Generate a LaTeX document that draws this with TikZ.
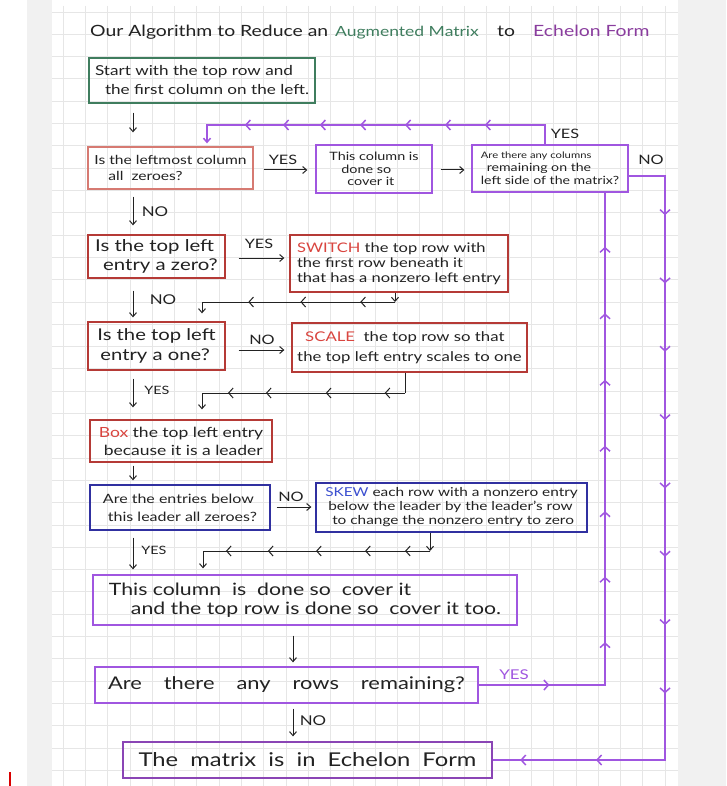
\documentclass[tikz,border=0pt]{standalone}
\usepackage{fontspec}
\setmainfont{Lato}[FakeStretch=1.25]
\usetikzlibrary{arrows.meta,decorations.markings,calc}
\definecolor{gridc}{HTML}{E6E6E6}
\definecolor{pagegray}{HTML}{F1F1F1}
\definecolor{grn}{HTML}{3F7D5E}
\definecolor{rd}{HTML}{B53A36}
\definecolor{rdl}{HTML}{D67A72}
\definecolor{rdw}{HTML}{D9453F}
\definecolor{pur}{HTML}{A056E0}
\definecolor{purd}{HTML}{8A45B5}
\definecolor{titlep}{HTML}{8A3D9E}
\definecolor{blu}{HTML}{3030A0}
\definecolor{bluw}{HTML}{3B4FD0}
\definecolor{ink}{HTML}{222222}
\newcommand{\fsz}[2]{\fontsize{#1}{#2}\selectfont}
\tikzset{
  chv/.tip={Straight Barb[length=4.5pt,width=10pt]},
  bx/.style={draw, line width=1.3pt, inner sep=1pt, text=ink, align=left},
  blk/.style={draw=ink, line width=1pt},
  pl/.style={draw=pur, line width=1.5pt},
  lab/.style={text=ink, inner sep=0pt, font=\fsz{13}{14}},
  chevat/.style={postaction={decorate,decoration={markings,mark=at position #1 with {\arrow{chv}}}}},
}
\begin{document}
\begin{tikzpicture}[x=1pt,y=-1pt,>={Straight Barb[length=4pt,width=7pt]}]
\useasboundingbox (0,0) rectangle (726,786);
% background page
\fill[white] (0,0) rectangle (726,786);
\fill[pagegray] (27,0) rectangle (52,786);
\fill[pagegray] (678,0) rectangle (726,786);
\foreach \i in {0,...,27} \draw[gridc, line width=0.8pt] ({63+22.3*\i},6) -- ({63+22.3*\i},786);
\foreach \j in {0,...,34} \draw[gridc, line width=0.8pt] (52,{12+22.3*\j}) -- (678,{12+22.3*\j});
\draw[red!85!black, line width=1.5pt] (10,772) -- (10,786);
\fill[red!80!black] (272,0) arc (180:360:7 and 4) -- cycle;

% title
\node[anchor=base west, inner sep=0, text=ink, font=\fsz{15.5}{18}] (t1) at (90,37) {Our Algorithm to Reduce an};
\node[anchor=base west, inner sep=0, text=grn, font=\fsz{14}{18}] (t2) at (335,37) {Augmented Matrix};
\node[anchor=base west, inner sep=0, text=ink, font=\fsz{15.5}{18}] (t3) at (497,37) {to};
\node[anchor=base west, inner sep=0, text=titlep, font=\fsz{15.5}{18}] (t4) at (533,37) {Echelon Form};

% boxes
\node[bx, draw=grn, line width=1.5pt, minimum width=226pt, minimum height=45pt, font=\fsz{13.7}{19}] (b0) at (202,80.5)
  {Start with the top row and\\\hspace*{10pt}the first column on the left.};
\node[bx, draw=rdl, minimum width=165pt, minimum height=42pt, font=\fsz{12.5}{16}] (b1) at (170.5,168)
  {Is the leftmost column\\\hspace*{14pt}all\ \ zeroes?};
\node[bx, draw=pur, minimum width=116pt, minimum height=48pt, font=\fsz{11.5}{12.5}] (b2) at (374,169)
  {This column is\\\hspace*{12pt}done so\\\hspace*{18pt}cover it};
\node[bx, draw=pur, minimum width=156pt, minimum height=47pt, font=\fsz{11.3}{13}] (b3) at (550,168.5)
  {{\fsz{9}{9}Are there any columns}\\\hspace*{6pt}remaining on the\\left side of the matrix?};
\node[bx, draw=rd, minimum width=137pt, minimum height=43pt, font=\fsz{16.3}{19}] (b4) at (156.5,256.5)
  {Is the top left\\\hspace*{8pt}entry a zero?};
\node[bx, draw=rd, minimum width=218pt, minimum height=57pt, font=\fsz{13.2}{15}] (b5) at (399,263.5)
  {{\color{rdw}SWITCH} the top row with\\the first row beneath it\\that has a nonzero left entry};
\node[bx, draw=rd, minimum width=137pt, minimum height=48pt, font=\fsz{16.2}{20}] (b6) at (156.5,346)
  {Is the top left\\\hspace*{3pt}entry a one?};
\node[bx, draw=rd, minimum width=235pt, minimum height=49pt, font=\fsz{13.4}{20}] (b7) at (409.5,347.5)
  {\hspace*{8pt}{\color{rdw}SCALE}\ \ the top row so that\\the top left entry scales to one};
\node[bx, draw=rd, minimum width=182pt, minimum height=42pt, font=\fsz{14}{18}] (b8) at (181,441)
  {{\color{rdw}Box} the top left entry\\\hspace*{5pt}because it is a leader};
\node[bx, draw=blu, minimum width=180pt, minimum height=45pt, font=\fsz{12.8}{18}] (b9) at (180,507.5)
  {Are the entries below\\\hspace*{5pt}this leader all zeroes?};
\node[bx, draw=blu, minimum width=271pt, minimum height=49pt, font=\fsz{12.3}{14}] (b10) at (451.5,507.5)
  {{\color{bluw}SKEW} each row with a nonzero entry\\\hspace*{3pt}below the leader by the leader's row\\\hspace*{7pt}to change the nonzero entry to zero};
\node[bx, draw=pur, minimum width=424pt, minimum height=50pt, font=\fsz{17}{19}] (b11) at (305,600)
  {This\ column\ \ is\ \ done\ so\ \ cover\ it\\\hspace*{22pt}and the top row is done so\ \ cover it too.};
\node[bx, draw=pur, minimum width=383pt, minimum height=36pt, font=\fsz{17.5}{18}] (b12) at (286.5,685)
  {Are\hspace{22pt}there\hspace{22pt}any\hspace{22pt}rows\hspace{22pt}remaining?};
\node[bx, draw=purd, minimum width=369pt, minimum height=36pt, font=\fsz{19}{20}] (b13) at (307.5,760)
  {The\ \ matrix\ \ is\ \ in\ \ Echelon\ \ Form};

% labels
\node[lab] (l1) at (283,160) {YES};
\node[lab] (l2) at (565,134) {YES};
\node[lab] (l3) at (651,160) {NO};
\node[lab, font=\fsz{13.5}{14}] (l4) at (155,212) {NO};
\node[lab] (l5) at (259,244) {YES};
\node[lab, font=\fsz{13.5}{14}] (l6) at (163,300) {NO};
\node[lab] (l7) at (262,340) {NO};
\node[lab, font=\fsz{11.5}{12}] (l8) at (157,390) {YES};
\node[lab] (l9) at (291,497) {NO};
\node[lab, font=\fsz{11.5}{12}] (l10) at (154,550) {YES};
\node[lab, text=pur, font=\fsz{13.5}{14}] (l11) at (514,675) {YES};
\node[lab, font=\fsz{13.5}{14}] (l12) at (313,721) {NO};

% main column arrows
\coordinate (cA) at (133,0);
\coordinate (cB) at (293,0);
\draw[blk,->,shorten <=9pt,shorten >=14pt] (b0.south -| cA) -- (b1.north -| cA);
\draw[blk,->,shorten <=7pt,shorten >=9pt] (b1.south -| cA) -- (b4.north -| cA);
\draw[blk,->,shorten <=12pt,shorten >=4pt] (b4.south -| cA) -- (b6.north -| cA);
\draw[blk,->,shorten <=8pt,shorten >=12pt] (b6.south -| cA) -- (b8.north -| cA);
\draw[blk,->,shorten <=3pt,shorten >=4pt] (b8.south -| cA) -- (b9.north -| cA);
\draw[blk,->,shorten <=7pt,shorten >=5pt] (b9.south -| cA) -- (b11.north -| cA);
\draw[blk,->,shorten <=10pt,shorten >=4pt] (b11.south -| cB) -- (b12.north -| cB);
\draw[blk,->,shorten <=5pt,shorten >=5pt] (b12.south -| cB) -- (b13.north -| cB);

% sideways arrows
\coordinate (yA) at (0,170);
\coordinate (yB) at (0,258);
\coordinate (yC) at (0,350);
\coordinate (yD) at (0,507);
\draw[blk,->,shorten <=10pt,shorten >=8pt] (b1.east |- yA) -- (b2.west |- yA);
\draw[blk,->,shorten <=8pt,shorten >=7pt] (b2.east |- yA) -- (b3.west |- yA);
\draw[blk,->,shorten <=13pt,shorten >=5pt] (b4.east |- yB) -- (b5.west |- yB);
\draw[blk,->,shorten <=13pt,shorten >=7pt] (b6.east |- yC) -- (b7.west |- yC);
\draw[blk,->,shorten <=6pt,shorten >=4pt] (b9.east |- yD) -- (b10.west |- yD);

% black return paths
\coordinate (r1) at (395,302); \coordinate (r1L) at (202,302);
\draw[blk,->] (b5.south -| r1) -- (r1);
\draw[blk,->,shorten >=8pt] (r1) -- (r1L) -- (b6.north -| r1L);
\draw[blk,chevat=0.18,chevat=0.49,chevat=0.76] (r1) -- (r1L);
\coordinate (r2) at (405,393); \coordinate (r2L) at (202,393);
\draw[blk] (b7.south -| r2) -- (r2);
\draw[blk,->,shorten >=10pt] (r2) -- (r2L) -- (b8.north -| r2L);
\draw[blk,chevat=0.1,chevat=0.39,chevat=0.685,chevat=0.872] (r2) -- (r2L);
\coordinate (r3) at (430,551); \coordinate (r3L) at (203,551);
\draw[blk,->] (b10.south -| r3) -- (r3);
\draw[blk,->,shorten >=6pt] (r3) -- (r3L) -- (b11.north -| r3L);
\draw[blk,chevat=0.11,chevat=0.286,chevat=0.502,chevat=0.714,chevat=0.899] (r3) -- (r3L);

% purple loop back to top
\coordinate (tR) at (545,125); \coordinate (tL) at (207,125);
\draw[pl,->,shorten >=3pt] (b3.north -| tR) -- (tR) -- (tL) -- (b1.north -| tL);
\draw[pl,chevat=0.178,chevat=0.296,chevat=0.414,chevat=0.547,chevat=0.666,chevat=0.775,chevat=0.888] (tR) -- (tL);

% NO path to the end
\coordinate (nR) at (665,176);
\draw[pl] (b3.east |- nR) -- (nR) -- (nR |- b13.east) -- (b13.east);
\draw[pl,chevat=0.067,chevat=0.184,chevat=0.301,chevat=0.418,chevat=0.535,chevat=0.652,chevat=0.769,chevat=0.886] (nR) -- (nR |- b13.east);
\draw[pl,chevat=0.4,chevat=0.84] (nR |- b13.east) -- (b13.east);

% YES path up
\coordinate (uX) at (605,0);
\draw[pl] (b12.east) -- (b12.east -| uX) -- (uX |- b3.south);
\draw[pl,chevat=0.56] (b12.east) -- (b12.east -| uX);
\draw[pl,chevat=0.087,chevat=0.22,chevat=0.353,chevat=0.486,chevat=0.62,chevat=0.755,chevat=0.89] (b12.east -| uX) -- (uX |- b3.south);
\end{tikzpicture}
\end{document}
